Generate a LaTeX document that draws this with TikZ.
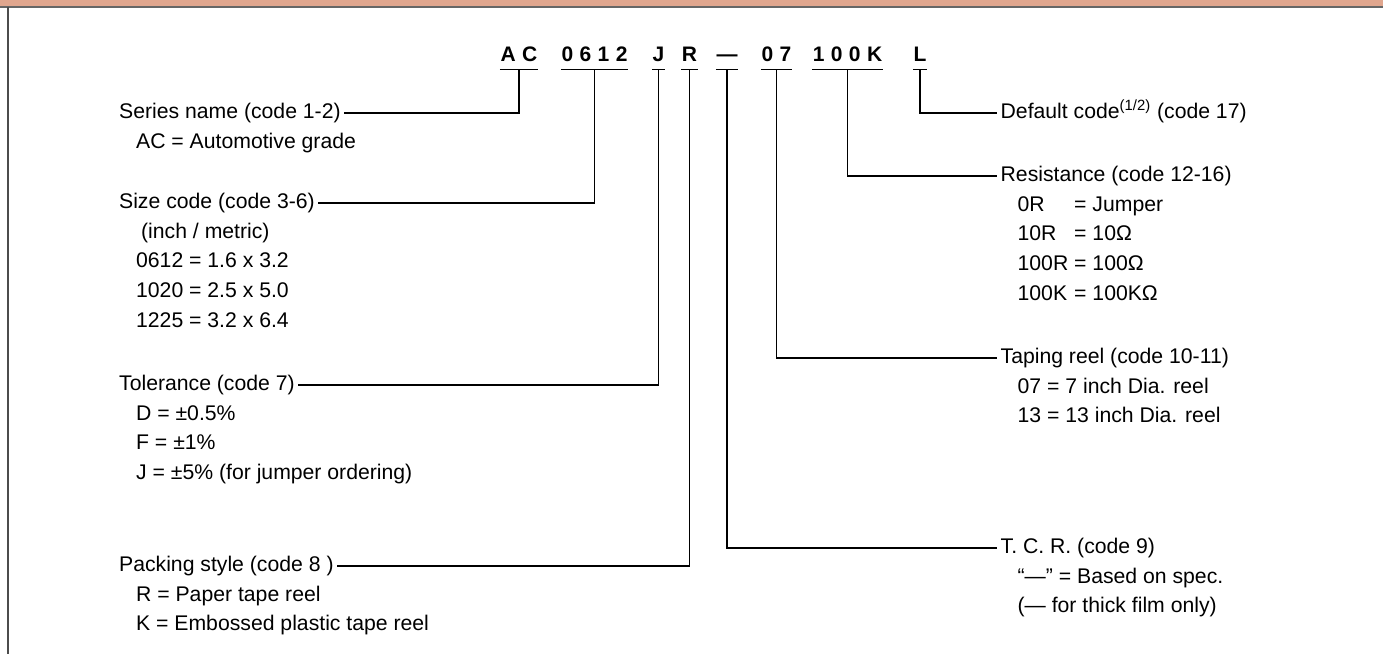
\documentclass[tikz,border=0pt]{standalone}
\usepackage{fontspec}
\setmainfont{Liberation Sans}
\usetikzlibrary{positioning}
\definecolor{bandcol}{HTML}{E0A68E}
\newcommand{\cg}{\hspace{3.2pt}}

\begin{document}
\begin{tikzpicture}[x=0.5pt, y=-0.5pt, line width=0.65pt,
  code/.style={font=\fontsize{10.5pt}{12pt}\selectfont\bfseries, inner sep=0pt, text height=7.8pt, text depth=4pt, anchor=base},
  hd/.style={font=\fontsize{10.6pt}{14.85pt}\selectfont, inner xsep=1.5pt, inner ysep=0pt, text height=0.75em, text depth=0.22em, anchor=west},
  items/.style={font=\fontsize{10.6pt}{14.85pt}\selectfont, inner sep=0pt}]
\useasboundingbox (0,0) rectangle (1383,654);
\fill[bandcol] (0,0) rectangle (1383,7);
\draw[black!60] (0,7) -- (1383,7);
\draw[black!70] (8,7) -- (8,654);

% part number groups
\node[code] (ac) at (519,61) {A\cg C};
\node[code] (size) at (594.5,61) {0\cg 6\cg 1\cg 2};
\node[code] (tolc) at (658.5,61) {J};
\node[code] (packc) at (689.5,61) {R};
\node[code] (tcrc) at (727,61) {—};
\node[code] (reelc) at (776.5,61) {0\cg 7};
\node[code] (resc) at (847.5,61) {1\cg 0\cg 0\cg K};
\node[code] (dfltc) at (920,61) {L};

% left column
\node[hd] (series) at (115.5,113) {Series name (code 1-2)};
\node[items, below right=14.85pt and 10pt of series.base west, anchor=base west] (seriesv) {\begin{tabular}[t]{@{}l@{}}AC = Automotive grade\end{tabular}};
\node[hd] (sizehd) at (115.5,203) {Size code (code 3-6)};
\node[items, below right=14.85pt and 10pt of sizehd.base west, anchor=base west] (sizev) {\begin{tabular}[t]{@{}l@{}}\hspace{2.5pt}(inch / metric)\\0612 = 1.6 x 3.2\\1020 = 2.5 x 5.0\\1225 = 3.2 x 6.4\end{tabular}};
\node[hd] (tol) at (115.5,385) {Tolerance (code 7)};
\node[items, below right=14.85pt and 10pt of tol.base west, anchor=base west] (tolv) {\begin{tabular}[t]{@{}l@{}}D = ±0.5\%\\F = ±1\%\\J = ±5\% (for jumper ordering)\end{tabular}};
\node[hd] (pack) at (115.5,566) {Packing style (code 8 )};
\node[items, below right=14.85pt and 10pt of pack.base west, anchor=base west] (packv) {\begin{tabular}[t]{@{}l@{}}R = Paper tape reel\\K = Embossed plastic tape reel\end{tabular}};

% right column
\node[hd] (dflt) at (997,113) {Default code\textsuperscript{(1/2)} (code 17)};
\node[hd] (res) at (997,176) {Resistance (code 12-16)};
\node[items, below right=14.85pt and 10pt of res.base west, anchor=base west] (resv) {\begin{tabular}[t]{@{}l@{ }l@{}}0R & = Jumper\\10R & = 10Ω\\100R & = 100Ω\\100K & = 100KΩ\end{tabular}};
\node[hd] (reel) at (997,358) {Taping reel (code 10-11)};
\node[items, below right=14.85pt and 10pt of reel.base west, anchor=base west] (reelv) {\begin{tabular}[t]{@{}l@{}}07 = 7 inch Dia. reel\\13 = 13 inch Dia. reel\end{tabular}};
\node[hd] (tcr) at (997,548) {T. C. R. (code 9)};
\node[items, below right=14.85pt and 10pt of tcr.base west, anchor=base west] (tcrv) {\begin{tabular}[t]{@{}l@{}}“—” = Based on spec.\\(— for thick film only)\end{tabular}};

% underlines
\draw (ac.south west) -- (ac.south east);
\draw (size.south west) -- (size.south east);
\draw (tolc.south west) -- (tolc.south east);
\draw (packc.south west) -- (packc.south east);
\draw (tcrc.south west) -- (tcrc.south east);
\draw (reelc.south west) -- (reelc.south east);
\draw (resc.south west) -- (resc.south east);
\draw (dfltc.south west) -- (dfltc.south east);

% leaders
\draw (ac.south) |- (series.east);
\draw (size.south) |- (sizehd.east);
\draw (tolc.south) |- (tol.east);
\draw (packc.south) |- (pack.east);
\draw (tcrc.south) |- (tcr.west);
\draw (reelc.south) |- (reel.west);
\draw (resc.south) |- (res.west);
\draw (dfltc.south) |- (dflt.west);
\end{tikzpicture}
\end{document}
